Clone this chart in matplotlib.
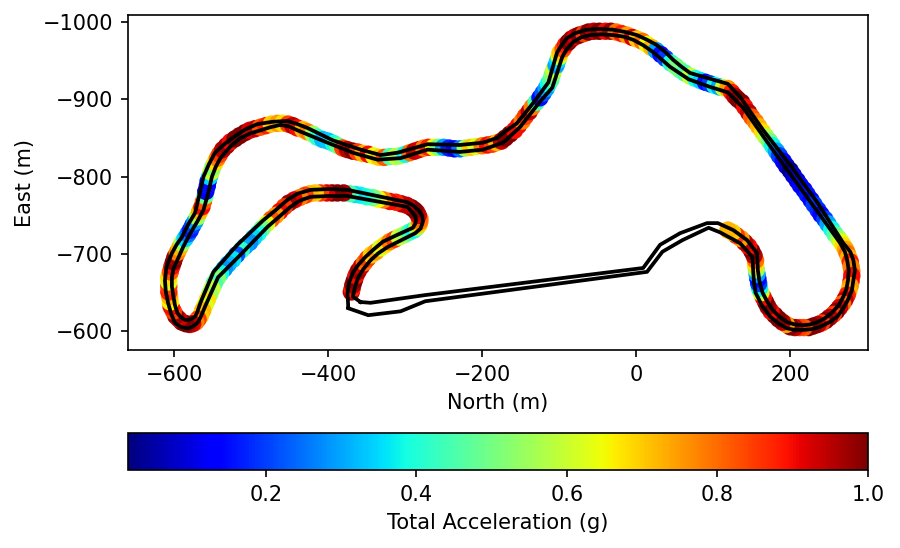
#!/usr/bin/env python3
"""Race track map: racing line coloured by total acceleration, with track edges."""

import matplotlib
matplotlib.use("Agg")
import matplotlib.pyplot as plt

# ---------------------------------------------------------------------------
# Data (metres, g)
# ---------------------------------------------------------------------------
line_north = [
    -370, -369, -368, -366, -364, -361, -357, -353, -349, -344,
    -338, -332, -326, -320, -314, -308, -301, -295, -289, -285,
    -282, -281, -281, -283, -285, -288, -292, -298, -305, -312,
    -320, -328, -335, -342, -350, -358, -365, -372, -380, -388,
    -395, -402, -410, -417, -424, -430, -437, -444, -451, -457,
    -463, -468, -474, -480, -486, -491, -497, -502, -508, -513,
    -519, -524, -530, -535, -540, -544, -548, -551, -554, -557,
    -560, -563, -566, -569, -572, -576, -580, -585, -590, -594,
    -598, -601, -604, -605, -606, -607, -607, -607, -607, -605,
    -603, -601, -599, -596, -593, -590, -586, -582, -579, -576,
    -573, -570, -567, -564, -562, -560, -559, -557, -556, -554,
    -552, -550, -547, -544, -541, -537, -532, -527, -521, -515,
    -508, -502, -495, -488, -481, -474, -466, -459, -452, -446,
    -440, -433, -427, -420, -414, -407, -400, -393, -387, -381,
    -375, -368, -362, -355, -348, -341, -334, -327, -320, -313,
    -307, -300, -294, -288, -282, -276, -270, -263, -257, -250,
    -243, -236, -229, -222, -215, -208, -200, -193, -187, -181,
    -175, -170, -164, -158, -153, -148, -144, -139, -135, -130,
    -125, -121, -117, -114, -111, -109, -107, -104, -102, -100,
    -99, -95, -92, -88, -84, -79, -74, -68, -62, -55,
    -48, -40, -33, -26, -19, -12, -5, 1, 8, 14,
    20, 26, 32, 38, 45, 51, 57, 63, 70, 77,
    84, 90, 96, 102, 108, 113, 119, 124, 128, 132,
    137, 141, 146, 150, 155, 159, 164, 168, 173, 177,
    182, 186, 191, 195, 200, 204, 209, 213, 218, 222,
    227, 231, 236, 240, 245, 249, 254, 258, 263, 266,
    269, 272, 274, 276, 278, 279, 280, 280, 279, 278,
    276, 274, 271, 268, 264, 260, 256, 251, 246, 241,
    236, 230, 224, 218, 212, 206, 200, 195, 190, 185,
    180, 175, 171, 168, 165, 162, 160, 159, 158, 157,
    156, 155, 155, 153, 150, 146, 141, 136, 130, 125,
    119,
]
line_east = [
    -651, -655, -660, -666, -672, -678, -684, -689, -694, -699,
    -703, -708, -712, -716, -719, -722, -725, -728, -731, -734,
    -738, -742, -746, -750, -754, -757, -760, -763, -765, -767,
    -768, -770, -771, -773, -774, -776, -777, -778, -779, -779,
    -779, -779, -779, -779, -778, -776, -773, -770, -766, -761,
    -755, -750, -745, -739, -733, -727, -721, -715, -710, -705,
    -699, -693, -687, -681, -675, -669, -662, -655, -648, -641,
    -634, -627, -620, -616, -612, -610, -609, -610, -612, -616,
    -620, -626, -632, -638, -645, -651, -658, -664, -670, -677,
    -684, -690, -696, -702, -708, -714, -720, -726, -731, -737,
    -742, -748, -755, -761, -768, -775, -781, -788, -794, -800,
    -806, -812, -818, -824, -829, -835, -840, -845, -849, -853,
    -857, -860, -862, -864, -866, -868, -869, -869, -868, -866,
    -863, -861, -858, -855, -851, -848, -846, -843, -840, -837,
    -835, -833, -832, -830, -829, -827, -825, -825, -826, -826,
    -827, -829, -831, -833, -835, -837, -838, -838, -838, -838,
    -837, -836, -836, -837, -838, -839, -840, -841, -842, -844,
    -846, -850, -855, -860, -866, -872, -878, -884, -890, -896,
    -902, -908, -914, -920, -925, -932, -938, -944, -950, -955,
    -960, -965, -970, -974, -978, -981, -983, -985, -987, -988,
    -988, -988, -988, -987, -985, -983, -980, -978, -975, -971,
    -967, -963, -958, -953, -947, -943, -938, -934, -930, -927,
    -924, -922, -920, -918, -916, -915, -914, -909, -904, -900,
    -896, -890, -883, -877, -871, -865, -858, -852, -846, -840,
    -833, -827, -820, -814, -808, -802, -795, -789, -783, -777,
    -770, -764, -757, -751, -745, -739, -732, -726, -720, -716,
    -711, -706, -701, -696, -690, -684, -678, -672, -665, -659,
    -652, -647, -641, -636, -631, -626, -622, -618, -614, -611,
    -609, -607, -605, -605, -605, -605, -606, -609, -612, -616,
    -621, -626, -632, -638, -644, -650, -656, -662, -668, -674,
    -680, -686, -692, -698, -704, -710, -715, -720, -724, -728,
    -731,
]
total_accel = [
    0.95, 0.88, 0.97, 1.00, 0.90, 0.97, 0.93, 0.80, 0.85, 0.70,
    0.75, 0.62, 0.68, 0.78, 0.85, 0.60, 0.55, 0.45, 0.38, 0.55,
    0.70, 0.78, 0.80, 0.92, 0.95, 1.00, 1.00, 0.95, 0.95, 0.88,
    0.90, 0.78, 0.65, 0.50, 0.42, 0.38, 0.36, 0.45, 0.97, 1.00,
    1.00, 0.92, 0.85, 0.70, 0.72, 0.85, 0.78, 0.92, 0.97, 0.85,
    0.90, 0.75, 0.82, 0.62, 0.50, 0.40, 0.35, 0.28, 0.30, 0.42,
    0.22, 0.36, 0.32, 0.28, 0.38, 0.52, 0.45, 0.60, 0.55, 0.68,
    0.62, 0.72, 0.70, 0.85, 0.78, 0.92, 0.95, 1.00, 1.00, 0.92,
    0.98, 0.85, 0.90, 0.66, 0.72, 0.88, 0.85, 0.62, 0.68, 0.82,
    0.90, 1.00, 0.97, 0.78, 0.72, 0.55, 0.35, 0.25, 0.17, 0.20,
    0.30, 0.55, 0.72, 0.90, 0.82, 0.50, 0.12, 0.15, 0.14, 0.35,
    0.60, 0.52, 0.68, 0.78, 0.85, 0.95, 0.97, 0.90, 1.00, 1.00,
    1.00, 0.92, 0.95, 0.82, 0.88, 0.70, 0.75, 0.68, 0.85, 0.95,
    0.90, 0.72, 0.78, 0.55, 0.42, 0.32, 0.33, 0.40, 0.50, 0.85,
    0.95, 1.00, 0.85, 0.72, 0.90, 0.65, 0.70, 0.82, 0.45, 0.58,
    0.55, 0.38, 0.80, 0.95, 0.92, 0.78, 0.88, 0.65, 0.50, 0.30,
    0.17, 0.12, 0.25, 0.55, 0.70, 0.62, 0.78, 0.90, 0.85, 0.72,
    0.95, 1.00, 1.00, 0.90, 0.90, 0.78, 0.85, 0.95, 0.78, 0.45,
    0.15, 0.22, 0.30, 0.38, 0.45, 0.52, 0.60, 0.30, 0.35, 0.62,
    0.70, 0.82, 0.88, 1.00, 0.97, 0.92, 1.00, 0.85, 1.00, 0.95,
    1.00, 0.90, 0.98, 0.80, 0.88, 0.75, 0.92, 0.70, 0.80, 0.65,
    0.72, 0.30, 0.15, 0.20, 0.40, 0.50, 0.50, 0.45, 0.60, 0.40,
    0.35, 0.15, 0.20, 0.38, 0.30, 0.60, 0.75, 0.88, 0.95, 1.00,
    1.00, 0.90, 0.95, 0.82, 0.78, 0.72, 0.68, 0.58, 0.50, 0.38,
    0.30, 0.20, 0.14, 0.09, 0.017, 0.08, 0.10, 0.14, 0.12, 0.16,
    0.14, 0.20, 0.18, 0.14, 0.20, 0.30, 0.38, 0.46, 0.55, 0.62,
    0.68, 0.74, 0.80, 0.72, 0.88, 0.78, 0.78, 0.90, 0.90, 0.75,
    0.72, 0.88, 0.95, 0.80, 0.92, 1.00, 0.85, 0.95, 1.00, 0.85,
    0.95, 1.00, 1.00, 0.82, 0.85, 0.95, 1.00, 0.75, 0.95, 1.00,
    1.00, 0.90, 0.97, 1.00, 0.90, 0.60, 0.38, 0.20, 0.15, 0.30,
    0.55, 0.68, 0.80, 0.95, 1.00, 0.90, 0.95, 0.75, 0.85, 0.70,
    0.72,
]

right_north = [
    -358, -368, -365, -361, -354, -345, -335, -323, -305, -287,
    -280, -277, -278, -283, -290, -297, -375, -400, -423, -440,
    -453, -468, -484, -518, -549, -566, -570, -573, -580, -586,
    -592, -596, -599, -601, -603, -603, -601, -596, -588, -579,
    -570, -562, -556, -551, -546, -540, -528, -514, -501, -488,
    -475, -462, -451, -440, -401, -368, -336, -306, -271, -229,
    -199, -173, -162, -151, -125, -109, -96, -90, -82, -72,
    -60, -45, -30, -16, -4, 9, 22, 44, 68, 96,
    119, 139, 170, 204, 239, 265, 271, 274, 276, 275,
    273, 269, 263, 255, 245, 235, 226, 217, 206, 196,
    186, 177, 170, 164, 160, 158, 157, 144, 126, 106,
    92, 57, 31, 9, -274, -345, -358,
]
right_east = [
    -638, -645, -658, -670, -681, -692, -701, -709, -718, -727,
    -733, -742, -750, -757, -763, -767, -783, -784, -783, -778,
    -770, -757, -744, -712, -677, -637, -625, -619, -615, -615,
    -619, -624, -634, -645, -658, -670, -681, -692, -710, -727,
    -742, -757, -778, -800, -813, -824, -838, -850, -856, -860,
    -864, -867, -865, -860, -844, -831, -822, -824, -835, -832,
    -835, -844, -854, -864, -897, -915, -955, -965, -974, -980,
    -983, -984, -983, -981, -977, -970, -961, -942, -926, -916,
    -909, -889, -845, -798, -750, -714, -703, -692, -679, -666,
    -655, -645, -634, -625, -617, -612, -609, -608, -609, -612,
    -619, -628, -639, -650, -665, -679, -701, -718, -731, -740,
    -740, -727, -712, -682, -647, -637, -638,
]
left_north = [
    -374, -375, -373, -368, -361, -352, -341, -329, -310, -290,
    -287, -286, -287, -290, -297, -375, -400, -423, -437, -449,
    -464, -479, -514, -543, -560, -565, -569, -576, -583, -592,
    -599, -604, -608, -611, -612, -610, -603, -597, -590, -582,
    -573, -567, -562, -555, -547, -535, -523, -508, -492, -472,
    -453, -440, -427, -394, -358, -332, -310, -271, -229, -199,
    -181, -168, -155, -134, -114, -103, -97, -90, -78, -64,
    -47, -30, -14, 1, 14, 27, 38, 48, 59, 70,
    119, 135, 165, 200, 235, 269, 278, 282, 284, 282,
    280, 275, 269, 261, 251, 239, 228, 217, 206, 196,
    185, 174, 163, 155, 153, 152, 151, 135, 109, 94,
    60, 34, 14, -274, -306, -348, -374,
]
left_east = [
    -632, -650, -663, -676, -686, -696, -706, -716, -725, -734,
    -739, -744, -749, -753, -761, -775, -775, -774, -769, -761,
    -748, -735, -699, -670, -632, -620, -612, -606, -604, -606,
    -611, -623, -637, -652, -666, -684, -701, -712, -722, -738,
    -753, -778, -800, -816, -831, -842, -851, -861, -868, -871,
    -872, -868, -863, -847, -835, -828, -831, -842, -841, -844,
    -850, -860, -869, -895, -922, -960, -970, -979, -986, -990,
    -991, -990, -987, -983, -977, -970, -961, -951, -942, -934,
    -920, -903, -860, -815, -767, -714, -703, -692, -679, -666,
    -653, -641, -630, -619, -612, -606, -603, -602, -602, -604,
    -610, -619, -634, -650, -663, -676, -696, -714, -728, -734,
    -718, -703, -677, -639, -626, -621, -630,
]

x_ticks = [-600, -400, -200, 0, 200]
y_ticks = [-1000, -900, -800, -700, -600]
cbar_ticks = [0.2, 0.4, 0.6, 0.8, 1.0]

# ---------------------------------------------------------------------------
# Figure
# ---------------------------------------------------------------------------
W, H = 900, 548
fig = plt.figure(figsize=(W / 150, H / 150), dpi=150)
ax = fig.add_axes([128 / W, 1 - 350 / H, 740 / W, 335 / H])
cax = fig.add_axes([128 / W, 1 - 470 / H, 740 / W, 37 / H])

sc = ax.scatter(line_north, line_east, c=total_accel, cmap="jet", s=70, linewidths=0)
ax.plot(right_north, right_east, color="black", linewidth=1.8)
ax.plot(left_north, left_east, color="black", linewidth=1.8)

ax.set_xlim(-660, 301)
ax.set_ylim(-576, -1009)
ax.set_xticks(x_ticks)
ax.set_yticks(y_ticks)
ax.set_xlabel("North (m)")
ax.set_ylabel("East (m)")

cbar = fig.colorbar(sc, cax=cax, orientation="horizontal")
cbar.set_ticks(cbar_ticks)
cbar.set_label("Total Acceleration (g)")

fig.savefig("out.png", dpi=150)
